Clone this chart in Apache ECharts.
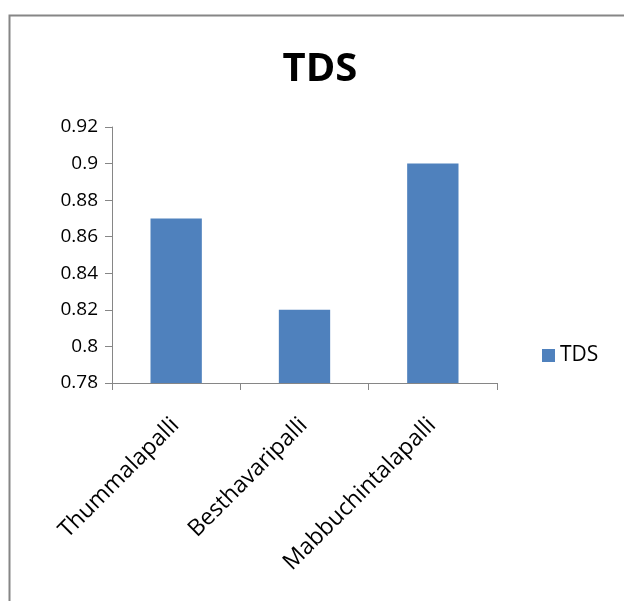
<!DOCTYPE html>
<html><head><meta charset="utf-8">
<script src="https://cdn.jsdelivr.net/npm/echarts@6/dist/echarts.min.js"></script>
<style>html,body{margin:0;padding:0;background:#fff}#c{width:624px;height:601px}</style>
</head><body><div id="c"></div>
<script>
const categories = ['Thummalapalli', 'Besthavaripalli', 'Mabbuchintalapalli'];
const tdsValues = [0.87, 0.82, 0.90];
const seriesName = 'TDS';
const yMin = 0.78, yMax = 0.92, yStep = 0.02;

const chart = echarts.init(document.getElementById('c'));
const font = '"Open Sans", "Liberation Sans", sans-serif';
chart.setOption({
  animation: false,
  graphic: [{type:'rect', shape:{x:9.5, y:15.5, width:700, height:700}, style:{fill:'none', stroke:'#868686', lineWidth:2}}],
  title: {text: 'TDS', left: 315, top: 45, textAlign: 'center',
    textStyle: {fontFamily: font, fontSize: 40, fontWeight: 'bold', color: '#000'}},
  legend: {data: [seriesName], left: 537, top: 340, itemWidth: 13, itemHeight: 13, itemGap: 8, icon: 'rect',
    textStyle: {fontFamily: font, fontSize: 21, color: '#000'}},
  grid: {left: 112, top: 127, width: 385, height: 256, containLabel: false},
  xAxis: {type: 'category', data: categories,
    axisLine: {lineStyle: {color: '#868686', width: 1}},
    axisTick: {show: true, length: 7, alignWithLabel: false, lineStyle: {color: '#868686'}},
    axisLabel: {rotate: 45, interval: 0, margin: 38, padding: [0, 1, 0, 0], fontFamily: font, fontSize: 23, color: '#000'}},
  yAxis: {type: 'value', min: yMin, max: yMax, interval: yStep,
    splitLine: {show: false},
    axisLine: {show: true, lineStyle: {color: '#868686'}},
    axisTick: {show: true, length: 7, lineStyle: {color: '#868686'}},
    axisLabel: {margin: 14, fontFamily: font, fontSize: 19, color: '#000',
      formatter: v => String(parseFloat(v.toFixed(2)))}},
  series: [{name: seriesName, type: 'bar', data: tdsValues, barWidth: '40%',
    itemStyle: {color: '#4F81BD'}}]
});
</script></body></html>
